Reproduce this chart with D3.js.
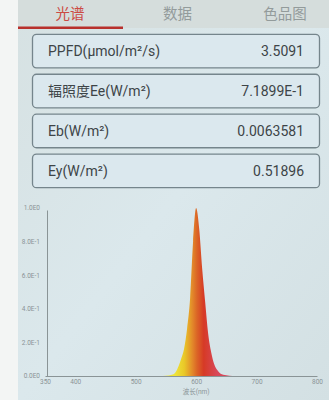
<!DOCTYPE html>
<html>
<head>
<meta charset="utf-8">
<script src="https://cdn.jsdelivr.net/npm/d3@7/dist/d3.min.js"></script>
<style>
html,body{margin:0;padding:0;background:#f3f5f4;}
svg{display:block;}
text{font-family:Roboto,"Noto Sans CJK SC","Noto Sans",sans-serif;}
</style>
</head>
<body>
<svg id="chart" width="329" height="400"></svg>
<script>
// ---- data ----
const tabs = ["光谱", "数据", "色品图"];
const activeTab = 0;
const metricLabels = ["PPFD(μmol/m²/s)", "辐照度Ee(W/m²)", "Eb(W/m²)", "Ey(W/m²)"];
const metricValues = ["3.5091", "7.1899E-1", "0.0063581", "0.51896"];

const wavelengths = [350, 540, 550, 560, 565, 570, 575, 580, 585, 590, 595, 600, 605, 610, 615, 620, 625, 630, 635, 640, 650, 660, 700, 800];
const intensity   = [0, 0, 0.002, 0.008, 0.018, 0.05, 0.10, 0.16, 0.28, 0.46, 0.80, 1.0, 0.88, 0.64, 0.44, 0.25, 0.14, 0.07, 0.035, 0.015, 0.004, 0, 0, 0];

const xTicks = [350, 400, 500, 600, 700, 800];
const yTicks = [0, 0.2, 0.4, 0.6, 0.8, 1.0];
const yTickLabels = ["0.0E0", "2.0E-1", "4.0E-1", "6.0E-1", "8.0E-1", "1.0E0"];
const xAxisTitle = "波长(nm)";

// ---- drawing ----
const svg = d3.select("#chart");
const defs = svg.append("defs");

const bg = defs.append("linearGradient").attr("id", "bg").attr("x1", 0).attr("y1", 0).attr("x2", 1).attr("y2", 1);
bg.append("stop").attr("offset", 0).attr("stop-color", "#d6e1e2");
bg.append("stop").attr("offset", 0.5).attr("stop-color", "#dbe8ec");
bg.append("stop").attr("offset", 1).attr("stop-color", "#d3e0e3");

// app background
svg.append("rect").attr("x", 18).attr("y", 0).attr("width", 311).attr("height", 400).attr("fill", "url(#bg)");
// tab bar
svg.append("rect").attr("x", 18).attr("y", 0).attr("width", 311).attr("height", 28).attr("fill", "#d5dddc");

const tabX = d3.scalePoint().domain(tabs).range([70, 285]);
svg.selectAll("text.tab").data(tabs).join("text")
  .attr("class", "tab")
  .attr("x", d => tabX(d)).attr("y", 19)
  .attr("text-anchor", "middle")
  .attr("font-size", 14.5)
  .attr("font-family", "'Noto Sans CJK SC'")
  .attr("fill", (d, i) => i === activeTab ? "#cc4a44" : "#939b9b")
  .text(d => d);
svg.append("rect").attr("x", 18).attr("y", 26.5).attr("width", 105).attr("height", 2.5).attr("fill", "#b8302c");

// metric boxes
const boxY = d3.scaleBand().domain(d3.range(metricLabels.length)).range([33, 188]).paddingInner(0.16).paddingOuter(0.02);
const boxes = svg.selectAll("g.box").data(metricLabels).join("g")
  .attr("class", "box")
  .attr("transform", (d, i) => `translate(0,${boxY(i)})`);
boxes.append("rect")
  .attr("x", 32.5).attr("y", 0.5)
  .attr("width", 287).attr("height", boxY.bandwidth())
  .attr("rx", 4).attr("ry", 4)
  .attr("fill", "#dbe8ee").attr("stroke", "#75858c").attr("stroke-width", 1.3);
boxes.append("text")
  .attr("x", 48).attr("y", boxY.bandwidth() / 2 + 5.5)
  .attr("font-size", 14).attr("fill", "#3d4447")
  .text(d => d);
boxes.append("text")
  .attr("x", 304).attr("y", boxY.bandwidth() / 2 + 5.5)
  .attr("text-anchor", "end")
  .attr("font-size", 14).attr("fill", "#3d4447")
  .text((d, i) => metricValues[i]);

// chart
const x = d3.scaleLinear().domain([350, 800]).range([45, 317]);
const y = d3.scaleLinear().domain([0, 1]).range([376, 208]);

const grad = defs.append("linearGradient").attr("id", "spec")
  .attr("gradientUnits", "userSpaceOnUse")
  .attr("x1", x(565)).attr("y1", 0).attr("x2", x(635)).attr("y2", 0);
grad.append("stop").attr("offset", 0).attr("stop-color", "#eee43a");
grad.append("stop").attr("offset", 0.22).attr("stop-color", "#e9c828");
grad.append("stop").attr("offset", 0.42).attr("stop-color", "#e2862a");
grad.append("stop").attr("offset", 0.52).attr("stop-color", "#db6526");
grad.append("stop").attr("offset", 0.68).attr("stop-color", "#d63a26");
grad.append("stop").attr("offset", 1).attr("stop-color", "#d8485a");

const pts = wavelengths.map((w, i) => [w, intensity[i]]);
const area = d3.area()
  .x(d => x(d[0]))
  .y0(y(0))
  .y1(d => y(d[1]))
  .curve(d3.curveMonotoneX);
svg.append("path").datum(pts)
  .attr("d", area)
  .attr("fill", "url(#spec)");

// axes
const xAxis = svg.append("g").attr("transform", `translate(0,${y(0)})`)
  .call(d3.axisBottom(x).tickValues(xTicks).tickSize(0).tickPadding(3).tickFormat(d3.format("d")));
xAxis.select(".domain").attr("stroke", "#8a9496").attr("stroke-width", 1);
xAxis.selectAll("text").attr("font-size", 6.5).attr("fill", "#8a9396").attr("font-family", "Roboto");

const yAxis = svg.append("g").attr("transform", `translate(47,0)`)
  .call(d3.axisLeft(y.copy().range([376, 210])).tickValues([]).tickSize(0));
yAxis.select(".domain").attr("stroke", "#8a9496").attr("stroke-width", 1);

svg.selectAll("text.ytick").data(yTicks).join("text")
  .attr("class", "ytick")
  .attr("x", 40).attr("y", d => y(d) + 2.3)
  .attr("text-anchor", "end")
  .attr("font-size", 6.5).attr("fill", "#8a9396")
  .text((d, i) => yTickLabels[i]);

svg.append("text")
  .attr("x", x(600)).attr("y", 394)
  .attr("text-anchor", "middle")
  .attr("font-size", 6.5).attr("fill", "#8a9396")
  .text(xAxisTitle);
</script>
</body>
</html>
